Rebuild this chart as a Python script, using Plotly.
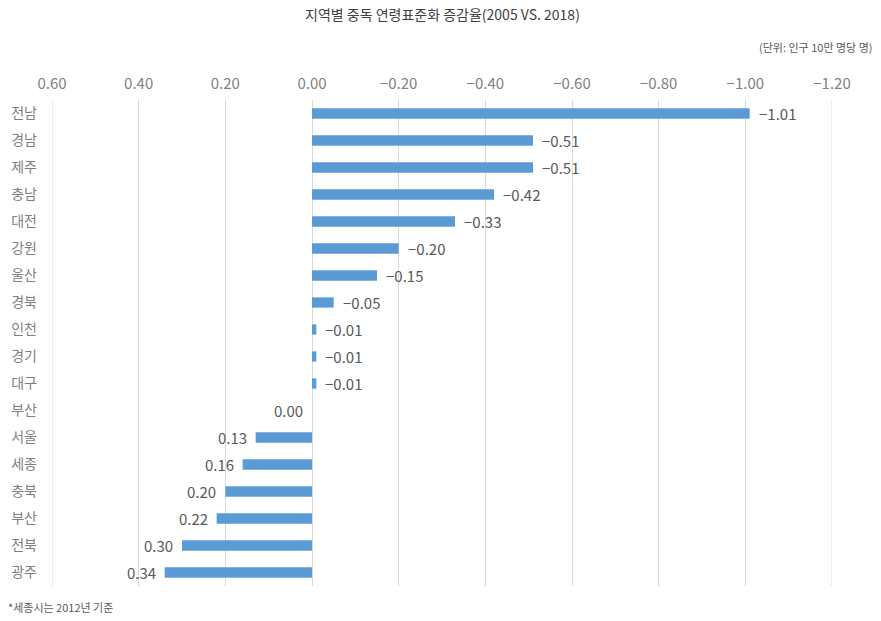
import plotly.graph_objects as go

# Regions, top to bottom, and change in age-standardised rate (2005 vs. 2018)
regions = ["전남", "경남", "제주", "충남", "대전", "강원", "울산", "경북", "인천",
           "경기", "대구", "부산", "서울", "세종", "충북", "부산", "전북", "광주"]
changes = [-1.01, -0.51, -0.51, -0.42, -0.33, -0.20, -0.15, -0.05, -0.01,
           -0.01, -0.01, 0.00, 0.13, 0.16, 0.20, 0.22, 0.30, 0.34]
x_ticks = [0.60, 0.40, 0.20, 0.00, -0.20, -0.40, -0.60, -0.80, -1.00, -1.20]

KR = "Noto Sans CJK KR"
BAR = "#5B9BD5"
GRID = "#D9D9D9"

# Positions along the y axis (region names repeat, so rows are indexed)
rows = list(range(len(regions)))

fig = go.Figure()
fig.add_trace(go.Bar(
    x=changes, y=rows, orientation="h",
    marker=dict(color=BAR, line=dict(width=0)),
    width=0.38, hoverinfo="x+text", hovertext=regions,
))

def fmt(v):
    s = f"{abs(v):.2f}"
    return ("\u2212" + s) if v < 0 else s

# Value labels just beyond each bar's end
for r, v in zip(rows, changes):
    neg = v < 0
    fig.add_annotation(
        x=v, y=r, xref="x", yref="y", text=fmt(v), showarrow=False,
        xanchor="left" if neg else "right", xshift=7 if neg else -7,
        font=dict(family=KR, size=15, color="#595959"),
    )

# Gridlines at both ends of the value axis
for edge in (x_ticks[0], x_ticks[-1]):
    fig.add_shape(type="line", xref="x", yref="paper", x0=edge, x1=edge,
                  y0=0, y1=1, line=dict(color=GRID, width=1), layer="below")

fig.add_annotation(
    x=0.5, y=1, xref="paper", yref="paper", yanchor="top", xanchor="center",
    text="지역별 중독 연령표준화 증감율(2005 VS. 2018)", showarrow=False,
    font=dict(family=KR, size=14, color="#404040"), yshift=98,
)
fig.add_annotation(
    x=1, y=1, xref="paper", yref="paper", xanchor="right", yanchor="middle",
    text="(단위: 인구 10만 명당 명)", showarrow=False, xshift=43, yshift=53,
    font=dict(family=KR, size=11, color="#595959"),
)
fig.add_annotation(
    x=0, y=0, xref="paper", yref="paper", xanchor="left", yanchor="middle",
    text="*세종시는 2012년 기준", showarrow=False, xshift=-46, yshift=-21,
    font=dict(family=KR, size=11, color="#595959"),
)

fig.update_xaxes(
    range=[0.60, -1.20], tickvals=x_ticks, tickformat=".2f", side="top",
    showgrid=True, gridcolor=GRID, gridwidth=1, zeroline=True, zerolinecolor=GRID,
    zerolinewidth=1, showline=False, ticks="", ticklabelstandoff=7,
    tickfont=dict(family=KR, size=15, color="#7F7F7F"), automargin=False,
)
fig.update_yaxes(
    range=[17.5, -0.5], tickvals=rows, ticktext=regions, showgrid=False,
    zeroline=False, showline=False, ticks="", ticklabelstandoff=14,
    tickfont=dict(family=KR, size=14, color="#7F7F7F"), automargin=False,
)
fig.update_layout(
    width=881, height=621, margin=dict(l=52, r=49, t=100, b=35),
    paper_bgcolor="white", plot_bgcolor="white", showlegend=False,
    bargap=0.6,
)
fig.write_html("out.html")
